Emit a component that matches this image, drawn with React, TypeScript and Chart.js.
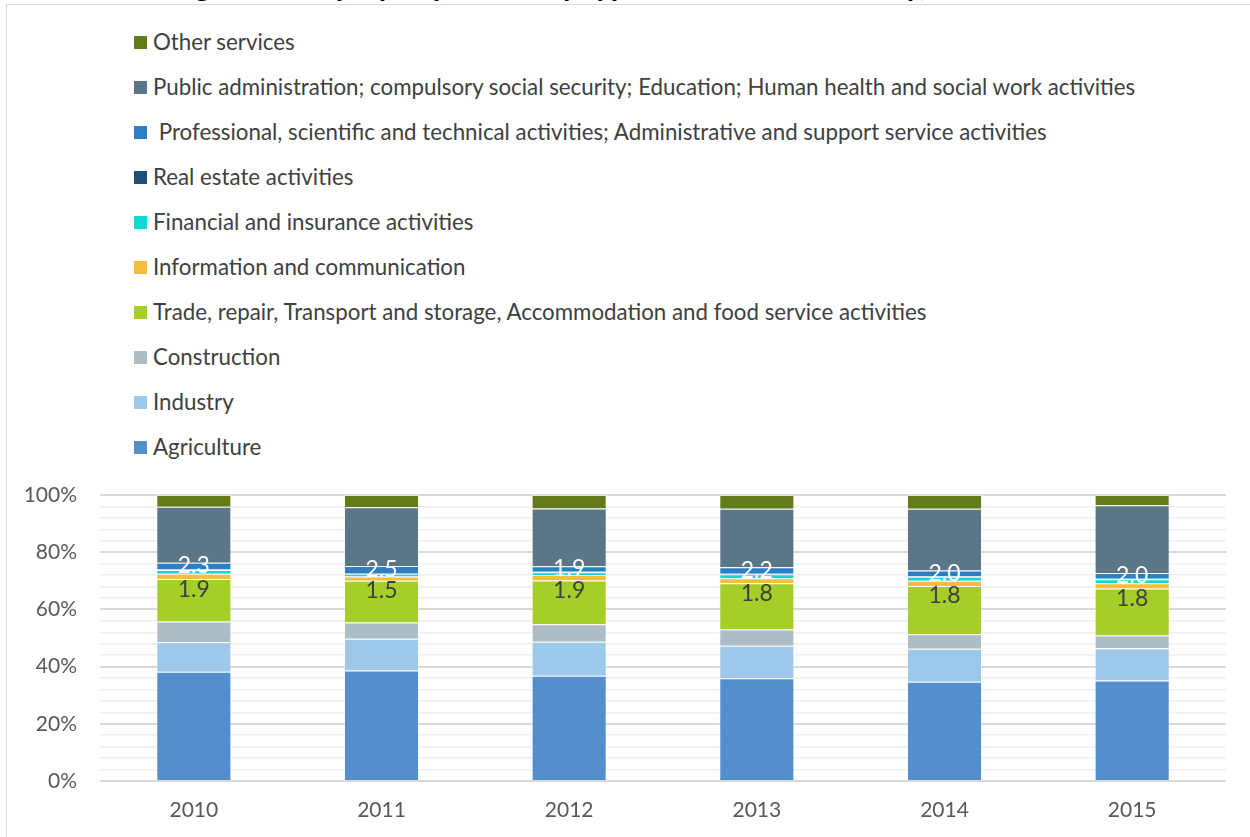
import React, { useEffect, useRef } from "react";
import { Chart, registerables } from "chart.js";

Chart.register(...registerables);

// ---- data (percent of employed persons) ----
const years = ["2010", "2011", "2012", "2013", "2014", "2015"];
const agriculture = [38.2, 38.6, 36.8, 35.9, 34.7, 35.1];
const industry = [10.3, 11.1, 11.9, 11.4, 11.5, 11.3];
const construction = [7.3, 5.7, 6.1, 5.7, 5.1, 4.5];
const trade = [14.8, 14.6, 15.3, 16.1, 16.9, 16.4];
const information = [1.9, 1.5, 1.9, 1.8, 1.8, 1.8];
const financial = [1.3, 1.0, 1.0, 1.4, 1.4, 1.4];
const realEstate = [0.2, 0.2, 0.2, 0.2, 0.2, 0.2];
const professional = [2.3, 2.5, 1.9, 2.2, 2.0, 2.0];
const publicAdmin = [19.6, 20.5, 20.2, 20.5, 21.6, 23.7];
const otherServices = [4.1, 4.3, 4.7, 4.8, 4.8, 3.6];

const seriesLabels = [
  "Agriculture",
  "Industry",
  "Construction",
  "Trade, repair, Transport and storage, Accommodation and food service activities",
  "Information and communication",
  "Financial and insurance activities",
  "Real estate activities",
  " Professional, scientific and technical activities; Administrative and support service activities",
  "Public administration; compulsory social security; Education; Human health and social work activities",
  "Other services",
];
const seriesValues = [
  agriculture,
  industry,
  construction,
  trade,
  information,
  financial,
  realEstate,
  professional,
  publicAdmin,
  otherServices,
];
const seriesColors = [
  "#558ecd",
  "#9dc8ea",
  "#adbdc6",
  "#a5ce28",
  "#f5bd3f",
  "#16d6d3",
  "#1f4e79",
  "#2e7ec6",
  "#5b7686",
  "#637b19",
];

const titleText = "Figure 3: Employed persons by type of economic activity, 2010-2015";

const FONT = "Lato, 'Open Sans', sans-serif";

export default function App() {
  const canvasRef = useRef<HTMLCanvasElement | null>(null);

  useEffect(() => {
    const canvas = canvasRef.current;
    if (!canvas) return;

    const profIdx = 7;
    const infoIdx = 4;

    const labelPlugin = {
      id: "segmentLabels",
      afterDatasetsDraw(chart: any) {
        const ctx = chart.ctx;
        ctx.save();
        ctx.font = `23px ${FONT}`;
        ctx.textAlign = "center";
        ctx.textBaseline = "middle";
        const profMeta = chart.getDatasetMeta(profIdx);
        profMeta.data.forEach((el: any, i: number) => {
          const y = (el.y + el.base) / 2;
          ctx.fillStyle = "#ffffff";
          ctx.fillText(professional[i].toFixed(1), el.x, y);
        });
        const infoMeta = chart.getDatasetMeta(infoIdx);
        infoMeta.data.forEach((el: any, i: number) => {
          const y = el.base + 10;
          ctx.fillStyle = "#404040";
          ctx.fillText(information[i].toFixed(1), el.x, y);
        });
        ctx.restore();
      },
    };

    const chart = new Chart(canvas, {
      type: "bar",
      data: {
        labels: years,
        datasets: seriesLabels.map((label, i) => ({
          label,
          data: seriesValues[i],
          backgroundColor: seriesColors[i],
          borderColor: "rgba(255,255,255,0.35)",
          borderWidth: 1,
          barPercentage: 1,
          categoryPercentage: 0.4,
        })),
      },
      options: {
        responsive: false,
        animation: false,
        layout: { padding: { top: 495, left: 0, right: 24, bottom: 0 } },
        plugins: {
          legend: { display: false },
          title: { display: false },
          tooltip: { enabled: false },
        },
        scales: {
          x: {
            stacked: true,
            grid: { display: false, drawTicks: false },
            border: { display: false },
            ticks: {
              color: "#595959",
              font: { family: FONT, size: 21 },
              padding: 17,
            },
            afterFit(scale: any) {
              scale.height = 56;
            },
          },
          y: {
            stacked: true,
            min: 0,
            max: 100,
            border: { display: false },
            grid: {
              drawTicks: false,
              color: (c: any) =>
                c.tick && c.tick.value % 20 === 0 ? "#d9d9d9" : "#f0f0f0",
              lineWidth: (c: any) =>
                c.tick && c.tick.value % 20 === 0 ? 2 : 1.5,
            },
            ticks: {
              stepSize: 4,
              maxTicksLimit: 40,
              autoSkip: false,
              color: "#595959",
              font: { family: FONT, size: 21 },
              padding: 23,
              callback: (v: any) => (Number(v) % 20 === 0 ? `${v}%` : ""),
            },
            afterFit(scale: any) {
              scale.width = 100;
            },
          },
        },
      },
      plugins: [labelPlugin],
    });

    return () => chart.destroy();
  }, []);

  const legendOrder = seriesLabels.map((_, i) => i).reverse();

  return (
    <div
      style={{
        position: "fixed",
        left: 0,
        top: 0,
        width: 1250,
        height: 837,
        overflow: "hidden",
        background: "#ffffff",
        fontFamily: FONT,
      }}
    >
      <div
        style={{
          position: "absolute",
          left: 6,
          top: 4,
          width: 1300,
          height: 900,
          borderTop: "1px solid #d9d9d9",
          borderLeft: "1px solid #d9d9d9",
        }}
      />
      <div
        style={{
          position: "absolute",
          left: 170,
          top: -31,
          fontSize: 30,
          lineHeight: "30px",
          fontWeight: 700,
          color: "#000000",
          whiteSpace: "nowrap",
        }}
      >
        {titleText}
      </div>
      {legendOrder.map((idx, row) => {
        const cy = 42 + row * 45;
        return (
          <div key={idx}>
            <div
              style={{
                position: "absolute",
                left: 134,
                top: cy - 6,
                width: 13,
                height: 13,
                background: seriesColors[idx],
              }}
            />
            <div
              style={{
                position: "absolute",
                left: 153,
                top: cy - 15,
                height: 30,
                lineHeight: "30px",
                fontSize: 22.3,
                color: "#404040",
                whiteSpace: "pre",
              }}
            >
              {seriesLabels[idx]}
            </div>
          </div>
        );
      })}
      <canvas
        ref={canvasRef}
        width={1250}
        height={837}
        style={{ position: "absolute", left: 0, top: 0 }}
      />
    </div>
  );
}
